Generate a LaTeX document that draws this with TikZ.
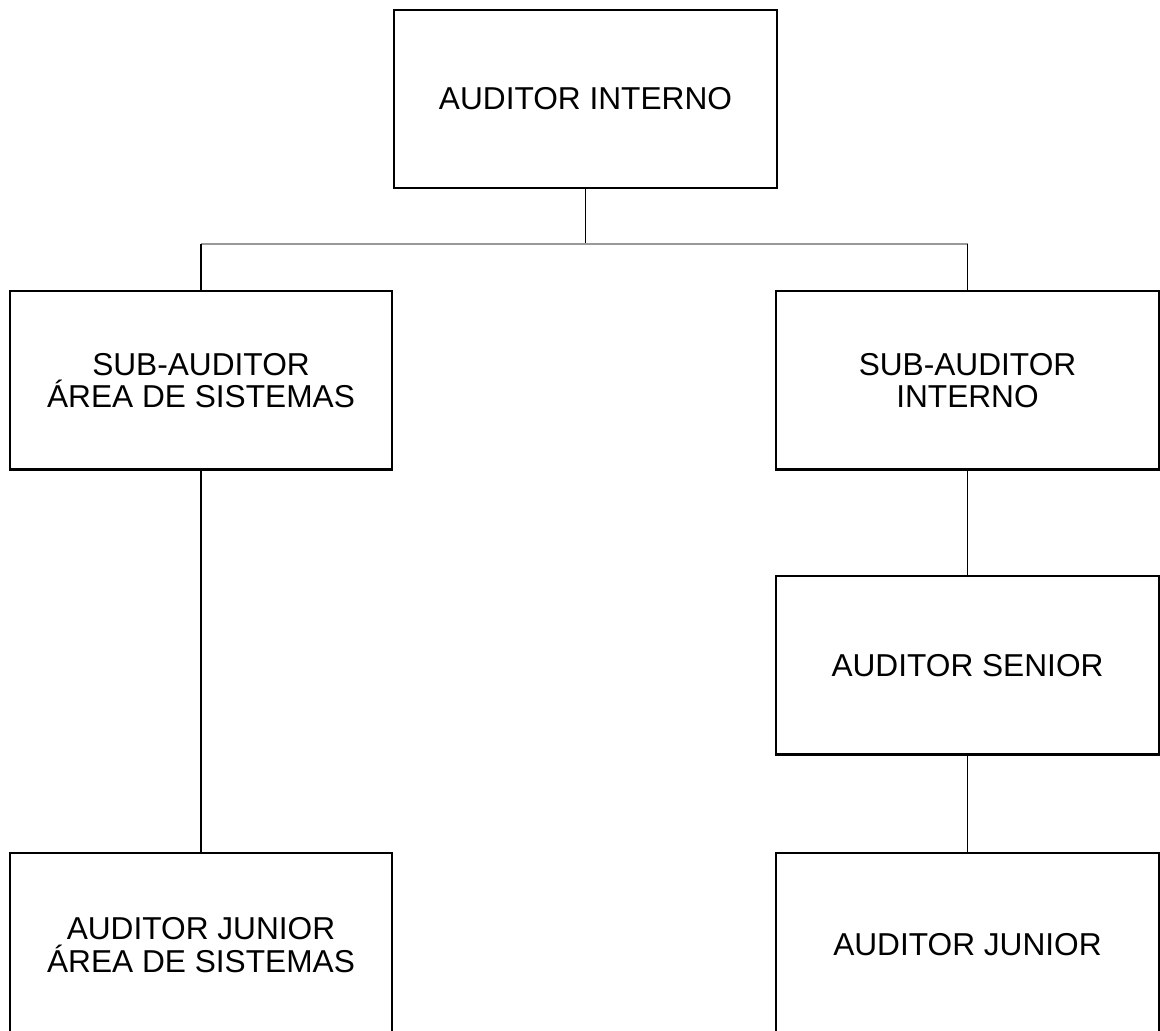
\documentclass[tikz,border=0pt]{standalone}
\usepackage{fontspec}
\setmainfont{Liberation Sans}
\usepackage{tikz}

\tikzset{
  puesto/.style={draw=black,line width=0.6pt,rectangle,minimum width=3.82cm,minimum height=1.78cm,
    inner sep=0pt,align=center,font=\fontsize{9}{9.2}\selectfont},
  enlace/.style={draw=black,line width=0.3pt},
  barra/.style={draw=black!40,line width=0.6pt}
}

\begin{document}
\begin{tikzpicture}[x=0.01cm,y=-0.01cm]
\useasboundingbox[fill=white] (0,0) rectangle (1160,1031);

\node[puesto] (interno) at (585.5,99) {AUDITOR INTERNO};
\node[puesto] (subsis) at (201,380.5) {SUB-AUDITOR\\ÁREA DE SISTEMAS};
\node[puesto] (subint) at (967.5,380.5) {SUB-AUDITOR\\INTERNO};
\node[puesto] (senior) at (967.5,665.5) {AUDITOR SENIOR};
\node[puesto,minimum height=1.84cm] (junsis) at (201,945) {AUDITOR JUNIOR\\ÁREA DE SISTEMAS};
\node[puesto,minimum height=1.84cm] (junior) at (967.5,945) {AUDITOR JUNIOR};

\coordinate (barM) at (585.5,244);
\coordinate (barL) at (201,244);
\coordinate (barR) at (967.5,244);

\draw[enlace] (interno.south) -- (barM);
\draw[barra] (barL) -- (barR);
\draw[enlace] (barL) -- (subsis.north);
\draw[enlace] (barR) -- (subint.north);
\draw[enlace] (subsis.south) -- (junsis.north);
\draw[enlace] (subint.south) -- (senior.north);
\draw[enlace] (senior.south) -- (junior.north);
\end{tikzpicture}
\end{document}
